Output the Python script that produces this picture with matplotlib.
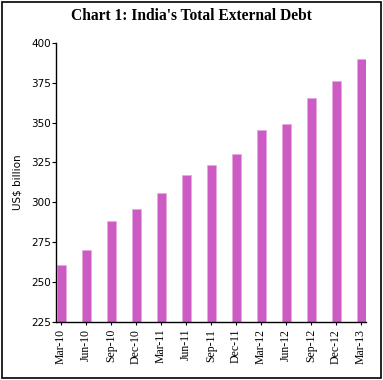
import matplotlib
matplotlib.use("Agg")
import matplotlib.pyplot as plt
from matplotlib.patches import Rectangle

categories = ["Mar-10", "Jun-10", "Sep-10", "Dec-10", "Mar-11", "Jun-11", "Sep-11",
              "Dec-11", "Mar-12", "Jun-12", "Sep-12", "Dec-12", "Mar-13"]
debt = [260.9, 270.0, 288.5, 295.8, 305.9, 316.9, 323.2, 330.4, 345.5, 349.1, 365.3, 376.3, 390.0]
yticks = [225, 250, 275, 300, 325, 350, 375, 400]

fig = plt.figure(figsize=(3.83, 3.80), dpi=100)
ax = fig.add_axes([0.147, 0.153, 0.808, 0.734])

x = list(range(len(categories)))
ax.bar(x, debt, width=0.36, color="#CC5CC4", edgecolor="#E8A8E0", linewidth=0.6, zorder=2)

ax.set_xlim(-0.19, len(categories) - 1 + 0.19)
ax.set_ylim(225, 400)
ax.set_yticks(yticks)
ax.set_yticklabels([str(v) for v in yticks], fontsize=7.5, family="DejaVu Sans")
ax.set_xticks(x)
ax.set_xticklabels(categories, rotation=90, fontsize=8.5, family="Liberation Serif")
ax.tick_params(axis="y", length=3, width=0.8, pad=1)
ax.tick_params(axis="x", length=2, width=0.8, pad=3)

for s in ["top", "right"]:
    ax.spines[s].set_visible(False)
for s in ["left", "bottom"]:
    ax.spines[s].set_linewidth(1.0)

ax.set_ylabel("US$ billion", fontsize=7.5, family="DejaVu Sans", labelpad=6)

fig.text(0.5, 0.958, "Chart 1: India's Total External Debt", ha="center", va="center",
         fontsize=11.2, fontweight="bold", family="Liberation Serif")

fig.patches.append(Rectangle((0.004, 0.004), 0.991, 0.991, transform=fig.transFigure,
                             fill=False, edgecolor="black", linewidth=1.2))

fig.savefig("out.png", dpi=100)
